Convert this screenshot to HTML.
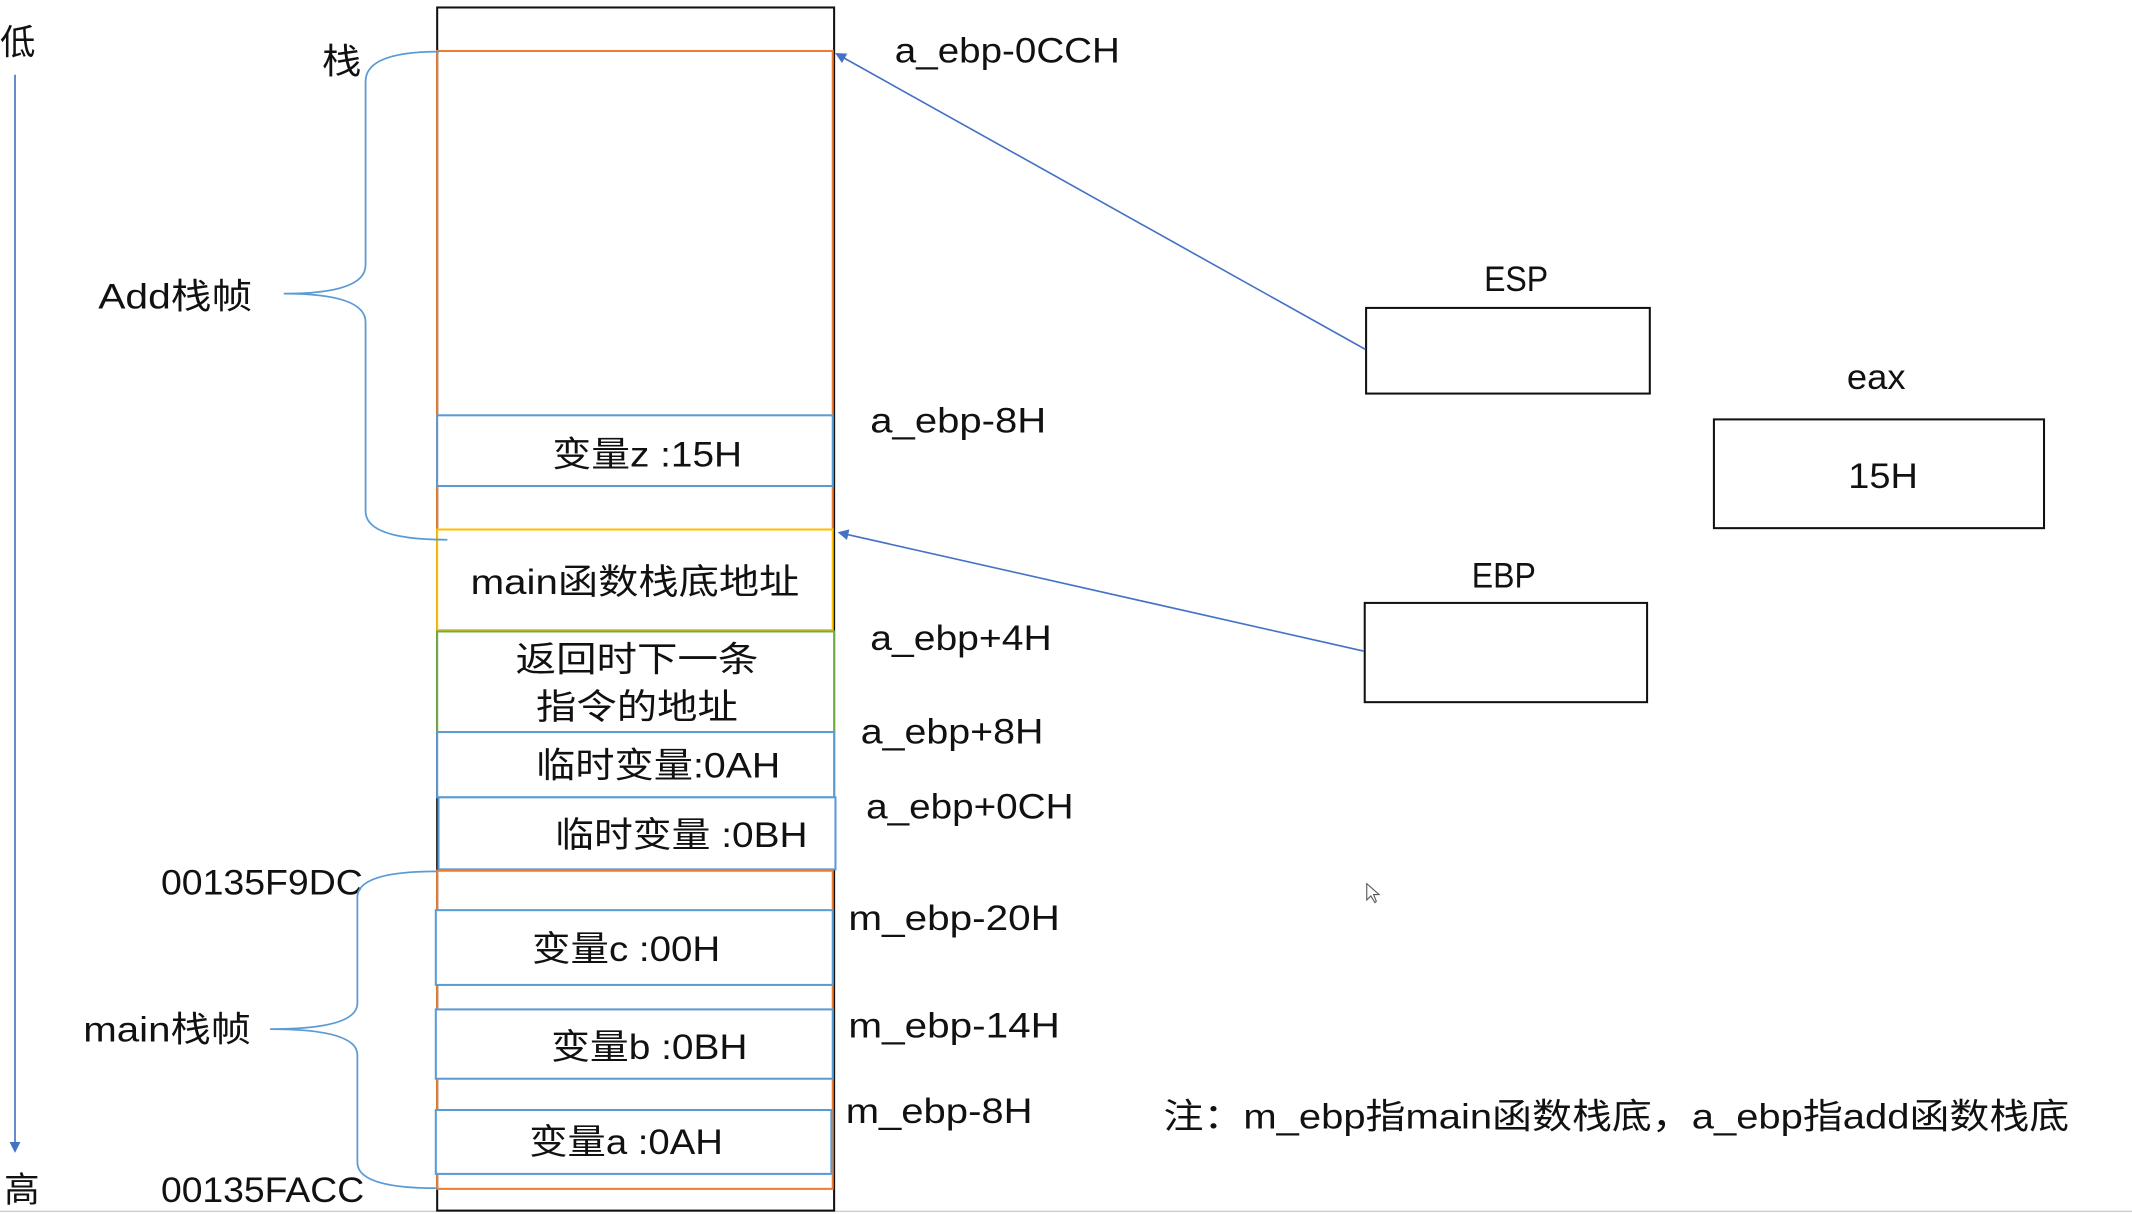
<!DOCTYPE html>
<html><head><meta charset="utf-8"><style>
html,body{margin:0;padding:0;background:#fff;}
svg{display:block;}
text{font-family:"Liberation Sans","Noto Sans CJK SC",sans-serif;fill:#111;}
</style></head><body>
<svg width="2132" height="1214" viewBox="0 0 1563 893" preserveAspectRatio="none" xmlns="http://www.w3.org/2000/svg">
<defs>
<marker id="ah" markerWidth="8" markerHeight="8" refX="6" refY="4" orient="auto" markerUnits="userSpaceOnUse"><path d="M0,0 L8,4 L0,8 z" fill="#4472c4"/></marker>
</defs>
<rect x="0" y="0" width="1563" height="893" fill="#fff"/>
<line x1="0" y1="891" x2="1563" y2="891" stroke="#ccc" stroke-width="1"/>
<rect x="320.5" y="5.5" width="291" height="885" fill="none" stroke="#111" stroke-width="1.5"/>
<rect x="320.5" y="37.5" width="290" height="352" fill="none" stroke="#ed7d31" stroke-width="1.5"/>
<rect x="320.5" y="305.5" width="290" height="52" fill="#fff" stroke="#5b9bd5" stroke-width="1.5"/>
<text x="405" y="343" font-size="26" textLength="139" lengthAdjust="spacingAndGlyphs">变量z :15H</text>
<rect x="320.5" y="389.5" width="290" height="74" fill="#fff" stroke="#ffc000" stroke-width="1.5"/>
<text x="345" y="437" font-size="26" textLength="241" lengthAdjust="spacingAndGlyphs">main函数栈底地址</text>
<rect x="320.5" y="464.5" width="291" height="74" fill="#fff" stroke="#70ad47" stroke-width="1.5"/>
<text x="378" y="494" font-size="26" textLength="178" lengthAdjust="spacingAndGlyphs">返回时下一条</text>
<text x="393" y="529" font-size="26" textLength="148" lengthAdjust="spacingAndGlyphs">指令的地址</text>
<rect x="320.5" y="538.5" width="291" height="48" fill="#fff" stroke="#5b9bd5" stroke-width="1.5"/>
<text x="393" y="572" font-size="26" textLength="179" lengthAdjust="spacingAndGlyphs">临时变量:0AH</text>
<rect x="321.5" y="586.5" width="291" height="53" fill="#fff" stroke="#5b9bd5" stroke-width="1.5"/>
<text x="407" y="623" font-size="26" textLength="185" lengthAdjust="spacingAndGlyphs">临时变量 :0BH</text>
<rect x="320.5" y="640.5" width="290" height="234" fill="none" stroke="#ed7d31" stroke-width="1.5"/>
<rect x="319.5" y="669.5" width="291" height="55" fill="#fff" stroke="#5b9bd5" stroke-width="1.5"/>
<text x="390" y="707" font-size="26" textLength="138" lengthAdjust="spacingAndGlyphs">变量c :00H</text>
<rect x="319.5" y="742.5" width="291" height="51" fill="#fff" stroke="#5b9bd5" stroke-width="1.5"/>
<text x="404" y="779" font-size="26" textLength="144" lengthAdjust="spacingAndGlyphs">变量b :0BH</text>
<rect x="319.5" y="816.5" width="290" height="47" fill="#fff" stroke="#5b9bd5" stroke-width="1.5"/>
<text x="388" y="849" font-size="26" textLength="142" lengthAdjust="spacingAndGlyphs">变量a :0AH</text>
<text x="656" y="46" font-size="26" textLength="165" lengthAdjust="spacingAndGlyphs">a_ebp-0CCH</text>
<text x="638" y="318" font-size="26" textLength="129" lengthAdjust="spacingAndGlyphs">a_ebp-8H</text>
<text x="638" y="478" font-size="26" textLength="133" lengthAdjust="spacingAndGlyphs">a_ebp+4H</text>
<text x="631" y="547" font-size="26" textLength="134" lengthAdjust="spacingAndGlyphs">a_ebp+8H</text>
<text x="635" y="602" font-size="26" textLength="152" lengthAdjust="spacingAndGlyphs">a_ebp+0CH</text>
<text x="622" y="684" font-size="26" textLength="155" lengthAdjust="spacingAndGlyphs">m_ebp-20H</text>
<text x="622" y="763" font-size="26" textLength="155" lengthAdjust="spacingAndGlyphs">m_ebp-14H</text>
<text x="620" y="826" font-size="26" textLength="137" lengthAdjust="spacingAndGlyphs">m_ebp-8H</text>
<text x="853" y="830" font-size="26" textLength="664" lengthAdjust="spacingAndGlyphs">注：m_ebp指main函数栈底，a_ebp指add函数栈底</text>
<text x="0" y="40" font-size="26">低</text>
<text x="3" y="884" font-size="26">高</text>
<line x1="11" y1="55" x2="11" y2="846" stroke="#4472c4" stroke-width="1.2" marker-end="url(#ah)"/>
<text x="236" y="54" font-size="26" textLength="29" lengthAdjust="spacingAndGlyphs">栈</text>
<text x="72" y="227" font-size="26" textLength="113" lengthAdjust="spacingAndGlyphs">Add栈帧</text>
<text x="61" y="766" font-size="26" textLength="123" lengthAdjust="spacingAndGlyphs">main栈帧</text>
<text x="118" y="658" font-size="26" textLength="148" lengthAdjust="spacingAndGlyphs">00135F9DC</text>
<text x="118" y="884" font-size="26" textLength="149" lengthAdjust="spacingAndGlyphs">00135FACC</text>
<path d="M322,38 Q268,38 268,60 L268,195 Q268,216 208,216 Q268,216 268,237 L268,376 Q268,397 328,397" fill="none" stroke="#5b9bd5" stroke-width="1.3"/>
<path d="M320,641 Q262,641 262,660 L262,738 Q262,757 198,757 Q262,757 262,776 L262,855 Q262,874 320,874" fill="none" stroke="#5b9bd5" stroke-width="1.3"/>
<text x="1088" y="214" font-size="26" textLength="47" lengthAdjust="spacingAndGlyphs">ESP</text>
<rect x="1001.5" y="226.5" width="208" height="63" fill="none" stroke="#111" stroke-width="1.5"/>
<text x="1079" y="432" font-size="26" textLength="47" lengthAdjust="spacingAndGlyphs">EBP</text>
<rect x="1000.5" y="443.5" width="207" height="73" fill="none" stroke="#111" stroke-width="1.5"/>
<text x="1354" y="286" font-size="26" textLength="43" lengthAdjust="spacingAndGlyphs">eax</text>
<rect x="1256.5" y="308.5" width="242" height="80" fill="none" stroke="#111" stroke-width="1.5"/>
<text x="1355" y="359" font-size="26" textLength="51" lengthAdjust="spacingAndGlyphs">15H</text>
<line x1="1001" y1="257" x2="614" y2="40" stroke="#4472c4" stroke-width="1.2" marker-end="url(#ah)"/>
<line x1="1000" y1="479" x2="616" y2="392" stroke="#4472c4" stroke-width="1.2" marker-end="url(#ah)"/>
<path d="M1002,650 L1002,662 L1005,659 L1008,664 L1009,663 L1007,658 L1011,658 z" fill="#fff" stroke="#555" stroke-width="0.8"/>
</svg>
</body></html>
